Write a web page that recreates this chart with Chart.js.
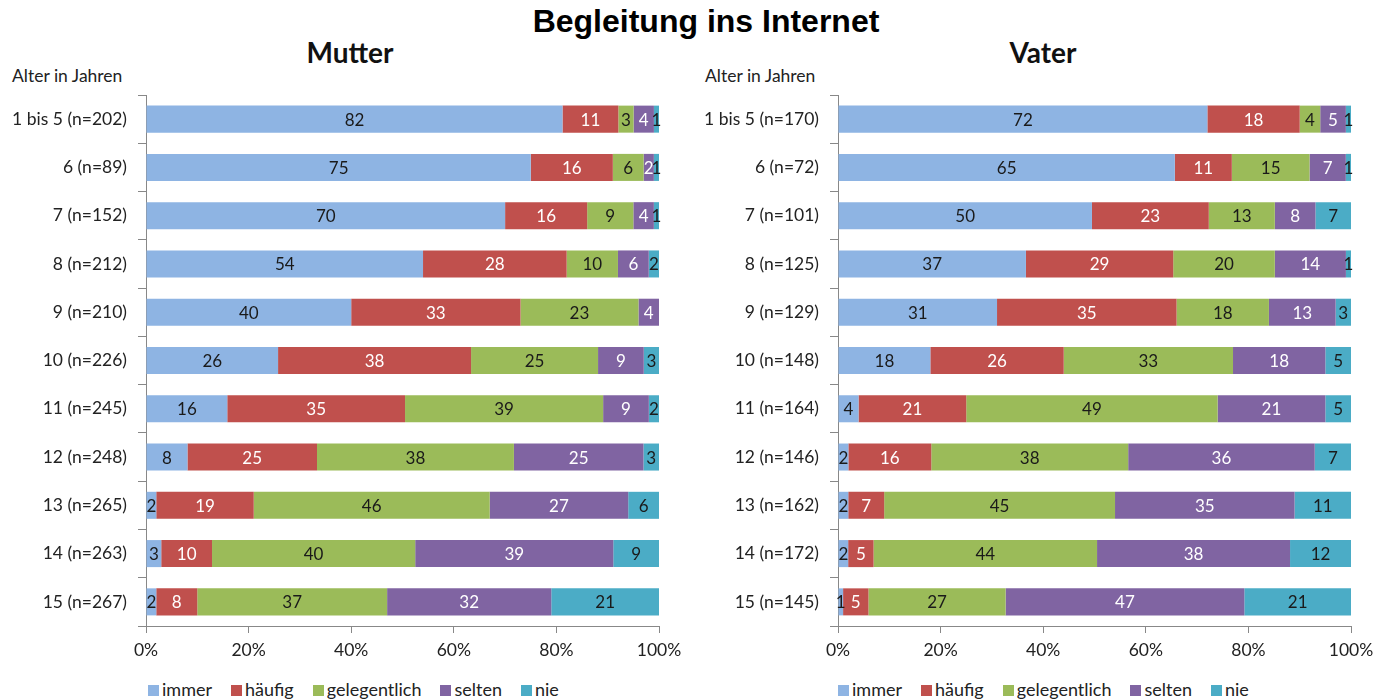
<!DOCTYPE html>
<html>
<head>
<meta charset="utf-8">
<script src="https://cdn.jsdelivr.net/npm/chart.js@4/dist/chart.umd.min.js"></script>
<style>
  body { margin: 0; background: #fff; font-family: Lato, sans-serif; color: #222; }
  #page { position: relative; width: 1374px; height: 699px; overflow: hidden; }
  .main-title { position: absolute; top: 3px; left: 0; width: 1412px; text-align: center;
    font: bold 32px "Liberation Sans", Arial, sans-serif; color: #000; }
  .sub-title { position: absolute; top: 35px; width: 700px; text-align: center;
    font: bold 28px Lato, sans-serif; color: #111; }
  .axis-note { position: absolute; top: 65px; font-size: 17.5px; color: #222; }
  .box { position: absolute; top: 36px; width: 687px; height: 637px; }
  .legend { position: absolute; top: 678px; font-size: 18px; color: #222; white-space: nowrap; }
  .legend span { margin-right: 19px; }
  .legend i { display: inline-block; width: 11px; height: 11px; margin-right: 3px; vertical-align: 0px; }
</style>
</head>
<body>
<div id="page">
  <div class="main-title">Begleitung ins Internet</div>
  <div class="sub-title" style="left:0px">Mutter</div>
  <div class="sub-title" style="left:693px">Vater</div>
  <div class="axis-note" style="left:12px">Alter in Jahren</div>
  <div class="axis-note" style="left:705px">Alter in Jahren</div>
  <div class="box" style="left:0px"><canvas id="mutterChart"></canvas></div>
  <div class="box" style="left:692px"><canvas id="vaterChart"></canvas></div>
  <div class="legend" id="legendMutter" style="left:148px"></div>
  <div class="legend" id="legendVater" style="left:838px"></div>
</div>
<script>
// Series names and colours
const seriesNames = ["immer", "häufig", "gelegentlich", "selten", "nie"];
const seriesColors = ["#8EB4E3", "#C0504D", "#9BBB59", "#8064A2", "#4BACC6"];
const labelColors = ["#1a1a1a", "#ffffff", "#1a1a1a", "#ffffff", "#1a1a1a"];
const xTicks = [0, 20, 40, 60, 80, 100];

// Mutter
const mutterAges = ["1 bis 5 (n=202)", "6 (n=89)", "7 (n=152)", "8 (n=212)", "9 (n=210)", "10 (n=226)",
  "11 (n=245)", "12 (n=248)", "13 (n=265)", "14 (n=263)", "15 (n=267)"];
const mutterImmer = [82, 75, 70, 54, 40, 26, 16, 8, 2, 3, 2];
const mutterHaeufig = [11, 16, 16, 28, 33, 38, 35, 25, 19, 10, 8];
const mutterGelegentlich = [3, 6, 9, 10, 23, 25, 39, 38, 46, 40, 37];
const mutterSelten = [4, 2, 4, 6, 4, 9, 9, 25, 27, 39, 32];
const mutterNie = [1, 1, 1, 2, 0, 3, 2, 3, 6, 9, 21];

// Vater
const vaterAges = ["1 bis 5 (n=170)", "6 (n=72)", "7 (n=101)", "8 (n=125)", "9 (n=129)", "10 (n=148)",
  "11 (n=164)", "12 (n=146)", "13 (n=162)", "14 (n=172)", "15 (n=145)"];
const vaterImmer = [72, 65, 50, 37, 31, 18, 4, 2, 2, 2, 1];
const vaterHaeufig = [18, 11, 23, 29, 35, 26, 21, 16, 7, 5, 5];
const vaterGelegentlich = [4, 15, 13, 20, 18, 33, 49, 38, 45, 44, 27];
const vaterSelten = [5, 7, 8, 14, 13, 18, 21, 36, 35, 38, 47];
const vaterNie = [1, 1, 7, 1, 3, 5, 5, 7, 11, 12, 21];

// labels inside each segment (shows the rounded value, bar uses the 100% share)
const segmentLabels = {
  id: "segmentLabels",
  afterDatasetsDraw(chart) {
    const ctx = chart.ctx;
    ctx.save();
    ctx.font = "17px Lato";
    ctx.textAlign = "center";
    ctx.textBaseline = "middle";
    chart.data.datasets.forEach((ds, i) => {
      chart.getDatasetMeta(i).data.forEach((bar, j) => {
        const v = ds.rawValues[j];
        if (!v) return;
        const p = bar.getProps(["x", "y", "base"], true);
        ctx.fillStyle = labelColors[i];
        ctx.fillText(String(v), (p.x + p.base) / 2, p.y + 1);
      });
    });
    ctx.restore();
  },
};

function makeChart(id, ages, series) {
  const sums = ages.map((_, j) => series.reduce((s, arr) => s + arr[j], 0));
  const datasets = series.map((arr, i) => ({
    label: seriesNames[i],
    data: arr.map((v, j) => (v / sums[j]) * 100),
    rawValues: arr,
    backgroundColor: seriesColors[i],
    borderWidth: 0,
    barPercentage: 0.56,
    categoryPercentage: 1,
  }));

  new Chart(document.getElementById(id).getContext("2d"), {
    type: "bar",
    data: { labels: ages, datasets: datasets },
    options: {
      indexAxis: "y",
      responsive: true,
      maintainAspectRatio: false,
      animation: false,
      layout: { padding: { top: 59, right: 28, bottom: 5, left: 0 } },
      plugins: {
        legend: { display: false },
        title: { display: false },
        tooltip: { enabled: false },
      },
      scales: {
        x: {
          stacked: true,
          min: 0,
          max: 100,
          afterBuildTicks: (scale) => { scale.ticks = xTicks.map((v) => ({ value: v })); },
          afterFit: (scale) => { scale.paddingLeft = 0; scale.paddingRight = 0; },
          grid: { drawOnChartArea: false, tickLength: 7, color: "#888" },
          border: { color: "#888" },
          ticks: { color: "#222", font: { family: "Lato", size: 17.5 }, padding: 7,
            callback: (v) => v + "%" },
        },
        y: {
          stacked: true,
          afterFit: (scale) => { scale.width = 146; },
          grid: { drawOnChartArea: false, offset: true, tickLength: 8, color: "#888" },
          border: { color: "#888" },
          ticks: { color: "#222", font: { family: "Lato", size: 17.5 }, padding: 11 },
        },
      },
    },
    plugins: [segmentLabels],
  });
}

function makeLegend(id) {
  document.getElementById(id).innerHTML = seriesNames
    .map((n, i) => '<span><i style="background:' + seriesColors[i] + '"></i>' + n + "</span>")
    .join("");
}

makeChart("mutterChart", mutterAges,
  [mutterImmer, mutterHaeufig, mutterGelegentlich, mutterSelten, mutterNie]);
makeChart("vaterChart", vaterAges,
  [vaterImmer, vaterHaeufig, vaterGelegentlich, vaterSelten, vaterNie]);
makeLegend("legendMutter");
makeLegend("legendVater");
</script>
</body>
</html>
